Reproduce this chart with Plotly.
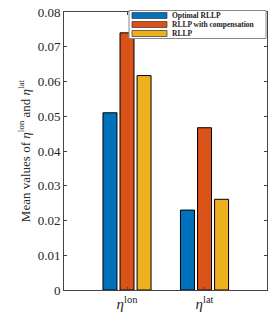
import plotly.graph_objects as go

categories = ["<i>η</i><sup>lon</sup>", "<i>η</i><sup>lat</sup>"]
series_names = ["Optimal RLLP", "RLLP with compensation", "RLLP"]
optimal_rllp = [0.0510, 0.0230]
rllp_comp = [0.0740, 0.0467]
rllp = [0.0617, 0.0261]
colors = ["#0072BD", "#D95319", "#EDB120"]
y_ticks = [0, 0.01, 0.02, 0.03, 0.04, 0.05, 0.06, 0.07, 0.08]
y_tick_labels = ["0", "0.01", "0.02", "0.03", "0.04", "0.05", "0.06", "0.07", "0.08"]

x_pos = [1, 2]
fig = go.Figure()
for name, vals, col in zip(series_names, [optimal_rllp, rllp_comp, rllp], colors):
    fig.add_trace(go.Bar(x=x_pos, y=vals, name=name, marker=dict(color=col, line=dict(color="black", width=1)),
                         showlegend=False))

W, H = 270, 315
ml, mr, mt, mb = 64, 3, 12, 25
pw, ph = W - ml - mr, H - mt - mb

def px(x):
    return (x - ml) / pw

def py(y):
    return (H - mb - y) / ph

shapes = []
annotations = []
# legend box
shapes.append(dict(type="rect", xref="paper", yref="paper", x0=px(129), x1=px(266), y0=py(38.5), y1=py(10.5),
                   line=dict(color="#888888", width=1), fillcolor="white", layer="above"))
rows = [15.5, 24.5, 33.5]
for name, col, ry in zip(series_names, colors, rows):
    shapes.append(dict(type="rect", xref="paper", yref="paper", x0=px(132), x1=px(167), y0=py(ry + 3), y1=py(ry - 3),
                       line=dict(color="#333333", width=0.7), fillcolor=col, layer="above"))
    annotations.append(dict(text="<b>" + name + "</b>", xref="paper", yref="paper", x=px(170), y=py(ry),
                            xanchor="left", yanchor="middle", showarrow=False,
                            font=dict(family="Liberation Serif", size=7.5, color="#222222")))

fig.update_layout(
    width=W, height=H,
    margin=dict(l=ml, r=mr, t=mt, b=mb),
    paper_bgcolor="white", plot_bgcolor="white",
    barmode="group", bargap=0.34, bargroupgap=0.18,
    font=dict(family="Liberation Serif", color="#262626"),
    shapes=shapes, annotations=annotations,
    xaxis=dict(range=[0.187, 2.806], tickvals=x_pos, ticktext=categories, ticks="inside", ticklen=3,
               showline=True, linecolor="#444444", linewidth=1, mirror="ticks", showgrid=False, zeroline=False,
               tickfont=dict(size=15, color="#262626"), tickcolor="#444444"),
    yaxis=dict(range=[0, 0.08], tickvals=y_ticks, ticktext=y_tick_labels, ticks="inside", ticklen=3,
               showline=True, linecolor="#444444", linewidth=1, mirror="ticks", showgrid=False, zeroline=False,
               tickfont=dict(size=13, color="#262626"), tickcolor="#444444",
               title=dict(text="Mean values of <i>η</i><sup>lon</sup> and <i>η</i><sup>lat</sup>",
                          font=dict(size=13, color="#262626"), standoff=4)),
)
fig.write_html("out.html", config={"displayModeBar": False},
               post_script="document.body.style.margin='0';document.body.style.overflow='hidden';")
